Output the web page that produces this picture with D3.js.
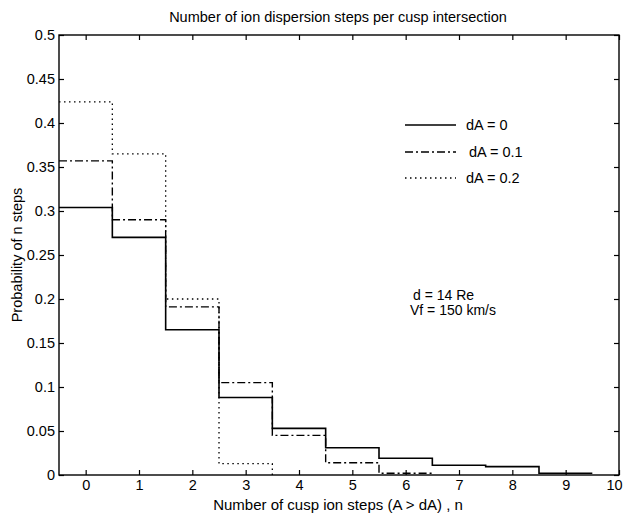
<!DOCTYPE html>
<html>
<head>
<meta charset="utf-8">
<script src="https://cdn.jsdelivr.net/npm/d3@7"></script>
<style>
  body { margin: 0; background: #fff; }
  text { font-family: "Liberation Sans", Arial, sans-serif; fill: #000; }
</style>
</head>
<body>
<svg id="viz"></svg>
<script>
// histogram values, bins n = 0..9
let dA0  = [0.304, 0.270, 0.165, 0.088, 0.053, 0.031, 0.019, 0.011, 0.0095, 0.002];
let dA01 = [0.357, 0.290, 0.191, 0.105, 0.045, 0.014, 0.002];
let dA02 = [0.424, 0.365, 0.200, 0.013];
let xTicks = [0, 1, 2, 3, 4, 5, 6, 7, 8, 9, 10];
let yTicks = [0, 0.05, 0.1, 0.15, 0.2, 0.25, 0.3, 0.35, 0.4, 0.45, 0.5];
let legendLabels = ["dA = 0", "dA = 0.1", "dA = 0.2"];

let svg = d3.select("#viz").attr("width", 623).attr("height", 514);

// plot frame
let pLeft = 59, pRight = 619, pTop = 35, pBottom = 475;
let x = d3.scaleLinear().domain([-0.5, 10]).range([pLeft, pRight]);
let y = d3.scaleLinear().domain([0, 0.5]).range([pBottom, pTop]);

let tickLen = 5;

// bottom axis (ticks inward)
let xAxis = svg.append("g").attr("transform", "translate(0," + pBottom + ")")
  .call(d3.axisBottom(x).tickValues(xTicks).tickSize(-tickLen).tickPadding(5).tickFormat(d3.format("d")));
// top ticks
svg.append("g").attr("transform", "translate(0," + pTop + ")")
  .call(d3.axisTop(x).tickValues(xTicks).tickSize(-tickLen).tickFormat(""));
// left axis
let yAxis = svg.append("g").attr("transform", "translate(" + pLeft + ",0)")
  .call(d3.axisLeft(y).tickValues(yTicks).tickSize(-tickLen).tickPadding(5).tickFormat(d => String(+d.toFixed(2))));
// right ticks
svg.append("g").attr("transform", "translate(" + pRight + ",0)")
  .call(d3.axisRight(y).tickValues(yTicks).tickSize(-tickLen).tickFormat(""));

svg.selectAll(".domain").remove();
svg.selectAll(".tick line").attr("stroke", "#000").attr("stroke-width", 1.2);
svg.selectAll(".tick text").style("font-size", "14.5px").style("font-family", "Liberation Sans, Arial, sans-serif").attr("fill", "#000");
yAxis.selectAll(".tick text").attr("x", -4);
xAxis.selectAll(".tick text").filter(d => d === 10).attr("dx", -5);

svg.append("rect")
  .attr("x", pLeft).attr("y", pTop)
  .attr("width", pRight - pLeft).attr("height", pBottom - pTop)
  .attr("fill", "none").attr("stroke", "#000").attr("stroke-width", 1.4);

// step lines: one point per bin left edge, plus a closing point
let stepLine = d3.line()
  .x(d => x(d[0]))
  .y(d => y(d[1]))
  .curve(d3.curveStepAfter);

let toSteps = (vals, endVal) => {
  let pts = vals.map((v, i) => [i - 0.5, v]);
  pts.push([vals.length - 0.5, endVal === undefined ? vals[vals.length - 1] : endVal]);
  return pts;
};

let series = [
  { pts: toSteps(dA0),      dash: null,        width: 1.6 },
  { pts: toSteps(dA01),     dash: "8,3,2,3",   width: 1.4 },
  { pts: toSteps(dA02, 0),  dash: "1.5,3.5",   width: 1.3 }
];

svg.selectAll("path.series")
  .data(series)
  .enter().append("path")
  .classed("series", true)
  .attr("fill", "none")
  .attr("stroke", "#000")
  .attr("stroke-width", d => d.width)
  .attr("stroke-dasharray", d => d.dash)
  .attr("d", d => stepLine(d.pts));

// legend
let legend = svg.append("g");
let legY = [125, 152, 178];
let legX = [466, 469, 466];
series.forEach((s, i) => {
  legend.append("line")
    .attr("x1", 405).attr("x2", 456)
    .attr("y1", legY[i]).attr("y2", legY[i])
    .attr("stroke", "#000")
    .attr("stroke-width", s.width)
    .attr("stroke-dasharray", s.dash);
  legend.append("text")
    .attr("x", legX[i]).attr("y", legY[i] + 5)
    .style("font-size", "14.5px")
    .text(legendLabels[i]);
});

// annotation
svg.append("text").attr("x", 413).attr("y", 300).style("font-size", "14px").text("d  = 14 Re");
svg.append("text").attr("x", 410).attr("y", 315).style("font-size", "14px").text("Vf = 150 km/s");

// titles
svg.append("text")
  .attr("x", 338).attr("y", 22)
  .attr("text-anchor", "middle")
  .style("font-size", "14.5px")
  .text("Number of ion dispersion steps per cusp intersection");

svg.append("text")
  .attr("x", 338).attr("y", 510)
  .attr("text-anchor", "middle")
  .style("font-size", "15px")
  .text("Number of cusp ion steps (A > dA) , n");

svg.append("text")
  .attr("transform", "translate(22," + 255 + ")rotate(-90)")
  .attr("text-anchor", "middle")
  .style("font-size", "14.5px")
  .text("Probability of n steps");
</script>
</body>
</html>
